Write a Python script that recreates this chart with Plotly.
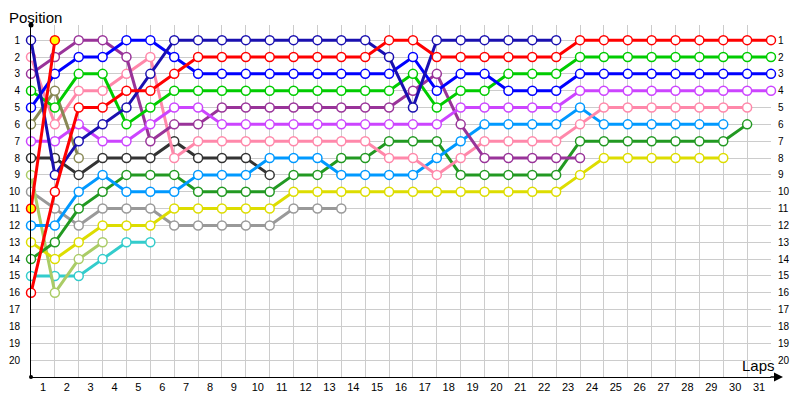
import plotly.graph_objects as go

laps_count = 31
positions = list(range(1, 21))

# Positions per driver, starting at lap 0 (grid)
red_b   = [16,10,5,5,4,4,3,2, 2,2,2,2,2,2,2,1, 1,2,2,2,2,2,2,1, 1,1,1,1,1,1,1,1]
green   = [4,5,3,3,6,5,4,4, 4,4,4,4,4,4,4,4, 3,5,4,4,3,3,3,2, 2,2,2,2,2,2,2,2]
blue    = [5,3,2,2,1,1,2,3, 3,3,3,3,3,3,3,3, 2,4,3,3,4,4,4,3, 3,3,3,3,3,3,3,3]
violet  = [7,7,6,7,7,6,5,5, 6,6,6,6,6,6,6,6,6,6, 5,5,5,5,5,4, 4,4,4,4,4,4,4,4]
pink    = [2,6,4,4,3,2,8,7, 7,7,7,7,7,7,7, 8,8,9,8,7,7,7,7,6, 5,5,5,5,5,5,5]
ltblue  = [12,12,10,9,10,10,10,9, 9,9,8,8,8,9,9,9, 9,8,7,6,6,6,6,5, 6,6,6,6,6,6]
dkgreen = [14,13,11,10,9,9,9,10, 10,10,10,9,9,8,8,7, 7,7,9,9,9,9,9,7, 7,7,7,7,7,7,6]
yellow  = [13,14,13,12,12,12,11,11, 11,11,11,10,10,10,10,10, 10,10,10,10,10,10,10,9, 8,8,8,8,8,8]
purple  = [3,2,1,1,2,7,6,6, 5,5,5,5,5,5,5,5, 4,3,6,8,8,8,8,8]
navy    = [1,9,7,6,5,3,1,1, 1,1,1,1,1,1,1,2, 5,1,1,1,1,1,1]
dkgrey  = [8,8,9,8,8,8,7,8,8,8,9]
gray    = [10,11,12,11,11,11,12,12,12,12,12,11,11,11]
ltgreen = [9,16,14,13]
cyan    = [15,15,15,14,13,13]
olive   = [6,4,8]
red_a   = [11,1]

series = [
    ("gray", gray, "#999999"),
    ("dkgrey", dkgrey, "#333333"),
    ("cyan", cyan, "#33cccc"),
    ("ltgreen", ltgreen, "#aacc66"),
    ("yellow", yellow, "#dddd00"),
    ("dkgreen", dkgreen, "#229922"),
    ("ltblue", ltblue, "#0099ff"),
    ("pink", pink, "#ff88aa"),
    ("purple", purple, "#993399"),
    ("olive", olive, "#888855"),
    ("violet", violet, "#cc44ff"),
    ("green", green, "#00cc00"),
    ("blue", blue, "#0000ff"),
    ("navy", navy, "#1a10b0"),
    ("red_b", red_b, "#ff0000"),
    ("red_a", red_a, "#ff0000"),
]

fig = go.Figure()
for name, vals, col in series:
    fill = "#ffff00" if name == "red_a" else "white"
    fig.add_trace(go.Scatter(
        x=list(range(len(vals))), y=vals, mode="lines+markers", name=name,
        line=dict(color=col, width=3),
        marker=dict(size=9, color=fill, line=dict(color=col, width=1.5)),
        cliponaxis=False, showlegend=False, hoverinfo="x+y",
    ))

# invisible trace for right axis
fig.add_trace(go.Scatter(x=[0], y=[1], yaxis="y2", mode="markers",
                         marker=dict(opacity=0), showlegend=False, hoverinfo="skip"))

# page has an 8px body margin; figure is laid out to compensate
W, H = 792, 392
L, R, T, B = 23, 29, 17, 23
PW, PH = W - L - R, H - T - B

font = "Liberation Sans"
fig.update_layout(
    width=W, height=H,
    margin=dict(l=L, r=R, t=T, b=B, autoexpand=False),
    plot_bgcolor="white", paper_bgcolor="white",
    font=dict(family=font, size=11, color="#000000"),
    xaxis=dict(
        range=[0, laps_count], showgrid=False, zeroline=False, automargin=False,
        tickvals=[k - 0.5 for k in range(1, laps_count + 1)],
        ticktext=[str(k) for k in range(1, laps_count + 1)],
        ticks="", showline=True, linecolor="#000000", linewidth=1,
        minor=dict(tick0=0, dtick=1, showgrid=True, gridcolor="#cccccc", gridwidth=1, ticks=""),
        tickfont=dict(size=11),
    ),
    yaxis=dict(
        range=[21, 0.1], showgrid=True, gridcolor="#cccccc", gridwidth=1, automargin=False,
        tickvals=positions, ticktext=[str(p) for p in positions],
        ticks="", showline=True, linecolor="#000000", linewidth=1, zeroline=False,
        ticklabelstandoff=8, tickfont=dict(size=10),
    ),
    yaxis2=dict(
        range=[21, 0.1], overlaying="y", side="right", showgrid=False, automargin=False,
        tickvals=positions, ticktext=[str(p) for p in positions],
        ticks="", showline=False, zeroline=False, ticklabelstandoff=6,
        tickfont=dict(size=10),
    ),
    annotations=[
        dict(text="Position", xref="paper", yref="paper", x=-L / PW, y=1 + T / PH,
             xanchor="left", yanchor="top", showarrow=False, xshift=0, yshift=0,
             borderpad=0, font=dict(size=15, family=font)),
        dict(text="Laps", xref="paper", yref="paper", x=1.0, y=0,
             xanchor="right", yanchor="bottom", showarrow=False, xshift=6, yshift=1,
             font=dict(size=15, family=font)),
        dict(x=1 + 12 / PW, y=0, xref="paper", yref="paper", ax=-14, ay=0,
             showarrow=True, arrowhead=2, arrowsize=1.2, arrowwidth=1.5, arrowcolor="#000000", text=""),
    ],
    shapes=[
        dict(type="circle", xref="paper", yref="paper", xsizemode="pixel", ysizemode="pixel",
             xanchor=0, yanchor=1, x0=-2.5, x1=2.5, y0=-2.5, y1=2.5,
             fillcolor="#000000", line=dict(color="#000000", width=0)),
        dict(type="circle", xref="paper", yref="paper", xsizemode="pixel", ysizemode="pixel",
             xanchor=0, yanchor=0, x0=-2, x1=2, y0=-2, y1=2,
             fillcolor="#000000", line=dict(color="#000000", width=0)),
    ],
)

fig.write_html("out.html")
